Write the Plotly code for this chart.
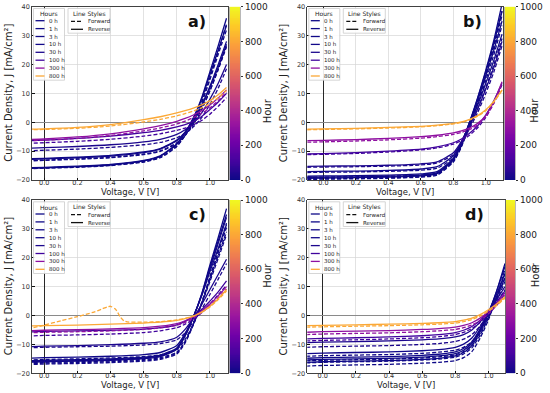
import plotly.graph_objects as go
from plotly.colors import sample_colorscale

W, H = 550, 393

# ---------------- data ----------------
hours = [0, 1, 3, 10, 30, 100, 300, 800]
hour_labels = ["0 h", "1 h", "3 h", "10 h", "30 h", "100 h", "300 h", "800 h"]
panel_labels = ["a)", "b)", "c)", "d)"]
x_ticks = [0.0, 0.2, 0.4, 0.6, 0.8, 1.0]
y_ticks = [-20, -10, 0, 10, 20, 30, 40]
cbar_ticks = [0, 200, 400, 600, 800, 1000]
cbar_range = [0, 1000]

voltage = [-0.1, 0.0, 0.2, 0.4, 0.6, 0.7, 0.8, 0.85, 0.9, 0.95, 1.0, 1.05, 1.1]

# rows follow `hours`
a_reverse = [
    [-16.0, -15.8, -15.4, -14.8, -13.4, -11.8, -7.6, -3.6, 1.5, 8.5, 17.5, 26.5, 36.0],
    [-15.8, -15.6, -15.2, -14.6, -13.2, -11.6, -7.4, -3.5, 1.4, 8.0, 16.5, 25.0, 33.5],
    [-12.7, -12.5, -12.1, -11.5, -10.3, -9.1, -6.2, -3.4, 0.6, 6.0, 12.5, 20.0, 28.0],
    [-12.9, -12.7, -12.3, -11.7, -10.5, -9.3, -6.4, -3.6, 0.3, 5.5, 12.0, 19.0, 27.0],
    [-9.0, -8.8, -8.4, -7.8, -6.8, -5.9, -4.2, -2.6, -0.3, 3.2, 8.0, 13.5, 20.0],
    [-6.4, -6.2, -5.6, -4.8, -3.6, -2.8, -1.6, -0.8, 0.3, 2.0, 4.4, 7.0, 10.0],
    [-6.0, -5.8, -5.1, -4.0, -2.3, -1.2, 0.3, 1.3, 2.5, 4.0, 6.0, 8.4, 11.2],
    [-2.4, -2.3, -1.8, -0.8, 0.9, 1.9, 3.2, 4.0, 4.9, 6.0, 7.5, 9.5, 12.0],
]
a_forward = [
    [-16.1, -15.9, -15.6, -15.0, -13.8, -12.3, -8.4, -4.6, 0.3, 7.0, 15.5, 24.5, 34.0],
    [-15.9, -15.8, -15.4, -14.8, -13.6, -12.1, -8.2, -4.5, 0.2, 6.6, 14.8, 23.5, 32.0],
    [-13.4, -13.2, -12.8, -12.3, -11.2, -10.1, -7.3, -4.6, -0.8, 4.4, 10.8, 18.2, 26.5],
    [-13.3, -13.1, -12.7, -12.1, -11.0, -9.9, -7.1, -4.4, -0.6, 4.6, 11.0, 18.5, 26.0],
    [-9.9, -9.7, -9.3, -8.7, -7.8, -7.0, -5.4, -3.8, -1.6, 1.6, 6.2, 11.8, 18.5],
    [-7.3, -7.1, -6.6, -5.9, -4.8, -4.0, -2.8, -2.0, -0.9, 0.6, 2.8, 5.5, 8.5],
    [-6.4, -6.2, -5.6, -4.6, -3.0, -2.0, -0.6, 0.4, 1.6, 3.1, 5.0, 7.5, 10.5],
    [-2.6, -2.5, -2.1, -1.3, 0.1, 1.0, 2.2, 3.0, 3.9, 5.0, 6.5, 8.5, 11.0],
]

b_reverse = [
    [-19.4, -19.3, -19.2, -19.0, -18.6, -17.8, -13.0, -7.5, 0.0, 8.5, 18.0, 28.5, 41.0],
    [-19.1, -19.0, -18.9, -18.7, -18.3, -17.5, -12.8, -7.3, 0.0, 8.3, 17.5, 27.5, 38.5],
    [-18.7, -18.6, -18.5, -18.3, -17.9, -17.1, -12.5, -7.2, -0.2, 7.5, 16.0, 25.0, 35.0],
    [-17.1, -17.0, -16.9, -16.7, -16.2, -15.4, -11.6, -6.9, -0.6, 6.0, 13.5, 21.5, 30.5],
    [-15.3, -15.2, -15.1, -14.9, -14.4, -13.7, -10.6, -6.6, -1.2, 4.6, 11.5, 19.0, 28.0],
    [-11.0, -10.9, -10.5, -10.0, -9.3, -8.5, -7.1, -5.8, -3.8, -1.2, 2.5, 7.5, 13.5],
    [-6.4, -6.3, -6.0, -5.6, -5.0, -4.5, -3.7, -3.0, -2.0, -0.4, 2.4, 7.2, 14.0],
    [-2.4, -2.3, -2.1, -1.8, -1.4, -1.0, -0.4, 0.1, 1.0, 2.3, 4.3, 7.3, 11.2],
]
b_forward = [
    [-19.8, -19.7, -19.6, -19.4, -19.0, -18.3, -13.8, -8.5, -1.2, 7.0, 16.5, 27.0, 38.5],
    [-19.6, -19.5, -19.4, -19.2, -18.8, -18.0, -13.5, -8.3, -1.2, 6.8, 16.0, 26.0, 37.0],
    [-19.1, -19.0, -18.9, -18.7, -18.3, -17.6, -13.2, -8.0, -1.3, 6.2, 14.5, 23.5, 33.5],
    [-17.4, -17.3, -17.2, -17.0, -16.6, -15.9, -12.3, -7.7, -1.6, 4.8, 12.0, 20.0, 29.0],
    [-15.6, -15.5, -15.4, -15.2, -14.8, -14.1, -11.2, -7.4, -2.2, 3.4, 10.0, 17.5, 26.5],
    [-11.2, -11.1, -10.8, -10.3, -9.6, -8.9, -7.6, -6.4, -4.5, -1.9, 1.7, 6.7, 13.0],
    [-6.9, -6.8, -6.5, -6.1, -5.5, -5.0, -4.2, -3.5, -2.5, -0.9, 1.9, 6.6, 13.5],
    [-2.6, -2.5, -2.3, -2.0, -1.6, -1.2, -0.6, -0.1, 0.8, 2.1, 4.0, 7.0, 11.0],
]

c_reverse = [
    [-16.0, -15.8, -15.6, -15.3, -14.7, -14.0, -11.5, -7.0, -0.5, 7.5, 17.5, 27.0, 37.0],
    [-15.7, -15.5, -15.3, -15.0, -14.4, -13.7, -11.2, -6.8, -0.5, 7.2, 16.8, 25.8, 35.0],
    [-14.8, -14.6, -14.4, -14.1, -13.5, -12.8, -10.4, -6.2, -0.3, 6.8, 15.2, 23.2, 31.5],
    [-16.2, -16.0, -15.8, -15.5, -14.9, -14.2, -11.7, -7.1, -0.6, 7.0, 16.0, 25.0, 34.0],
    [-10.8, -10.6, -10.4, -10.1, -9.6, -9.1, -7.5, -4.8, -0.8, 3.8, 9.0, 14.2, 19.5],
    [-5.7, -5.5, -5.3, -5.1, -4.7, -4.2, -3.2, -2.0, -0.3, 2.0, 5.0, 8.2, 12.0],
    [-5.3, -5.1, -4.9, -4.6, -4.2, -3.7, -2.8, -1.8, -0.4, 1.6, 4.0, 6.8, 10.0],
    [-3.6, -3.5, -3.3, -3.0, -2.6, -2.3, -1.7, -1.1, -0.2, 1.2, 3.2, 5.8, 9.0],
]
c_forward = [
    [-16.7, -16.5, -16.3, -16.0, -15.5, -14.9, -13.0, -9.2, -3.0, 4.5, 13.5, 22.5, 32.0],
    [-16.4, -16.2, -16.0, -15.7, -15.2, -14.6, -12.7, -9.0, -3.0, 4.3, 13.0, 21.8, 30.5],
    [-15.4, -15.2, -15.0, -14.7, -14.2, -13.6, -11.8, -8.3, -2.8, 4.0, 11.8, 19.8, 28.0],
    [-17.0, -16.8, -16.6, -16.3, -15.8, -15.2, -13.3, -9.5, -3.2, 4.0, 12.5, 20.8, 29.0],
    [-11.2, -11.0, -10.8, -10.6, -10.2, -9.7, -8.4, -6.0, -2.2, 2.2, 7.3, 12.6, 18.0],
    [-7.1, -6.9, -6.7, -6.4, -5.9, -5.3, -4.2, -3.0, -1.3, 1.0, 4.0, 7.2, 10.5],
    [-6.0, -5.8, -5.6, -5.3, -4.8, -4.3, -3.4, -2.4, -0.9, 1.0, 3.4, 6.2, 9.2],
]
# the 800 h forward sweep of panel c has its own (irregular) shape
c_forward_800h_voltage = [-0.1, 0.0, 0.1, 0.2, 0.25, 0.3, 0.35, 0.38, 0.4, 0.43, 0.46,
                          0.48, 0.5, 0.6, 0.7, 0.8, 0.85, 0.9, 0.95, 1.0, 1.05, 1.1]
c_forward_800h = [-4.7, -3.3, -1.8, -0.4, 0.4, 1.2, 2.3, 3.0, 3.2, 2.2, -0.6,
                  -1.8, -2.2, -2.3, -2.1, -1.5, -1.0, -0.2, 1.1, 3.0, 5.5, 8.5]

d_reverse = [
    [-16.2, -16.0, -15.8, -15.6, -15.2, -14.8, -14.0, -12.8, -10.4, -5.6, 0.6, 8.5, 18.0],
    [-15.4, -15.2, -15.0, -14.8, -14.4, -14.0, -13.2, -12.0, -9.7, -5.0, 1.0, 8.5, 17.0],
    [-14.8, -14.6, -14.4, -14.2, -13.8, -13.4, -12.6, -11.4, -9.1, -4.6, 1.0, 7.5, 14.5],
    [-13.2, -13.0, -12.8, -12.6, -12.2, -11.8, -11.0, -9.9, -7.8, -3.8, 1.0, 6.6, 13.0],
    [-9.4, -9.2, -9.0, -8.8, -8.4, -8.1, -7.4, -6.6, -5.0, -2.2, 1.4, 5.5, 10.0],
    [-8.1, -7.9, -7.7, -7.4, -7.0, -6.6, -5.9, -5.1, -3.8, -1.6, 1.4, 4.6, 8.5],
    [-5.8, -5.6, -5.4, -5.2, -4.8, -4.5, -4.0, -3.4, -2.5, -0.9, 1.4, 4.2, 7.8],
    [-3.5, -3.4, -3.2, -3.0, -2.7, -2.5, -2.1, -1.6, -0.9, 0.3, 2.0, 4.0, 6.5],
]
d_forward = [
    [-17.5, -17.3, -17.1, -16.9, -16.5, -16.2, -15.6, -14.6, -12.5, -7.8, -1.5, 6.5, 16.0],
    [-16.4, -16.2, -16.0, -15.8, -15.4, -15.1, -14.4, -13.3, -11.2, -6.8, -0.8, 6.2, 14.8],
    [-15.7, -15.5, -15.3, -15.1, -14.7, -14.3, -13.6, -12.5, -10.4, -6.2, -0.6, 5.8, 13.0],
    [-14.1, -13.9, -13.7, -13.5, -13.1, -12.7, -12.0, -11.0, -9.0, -5.2, -0.4, 5.2, 11.8],
    [-11.0, -10.8, -10.6, -10.4, -10.0, -9.7, -9.0, -8.2, -6.6, -3.6, 0.2, 4.4, 9.0],
    [-8.8, -8.6, -8.4, -8.1, -7.7, -7.3, -6.6, -5.8, -4.5, -2.4, 0.6, 3.8, 7.5],
    [-6.6, -6.4, -6.2, -6.0, -5.6, -5.3, -4.8, -4.2, -3.3, -1.7, 0.6, 3.5, 7.0],
    [-4.0, -3.9, -3.7, -3.5, -3.2, -3.0, -2.6, -2.1, -1.4, -0.2, 1.5, 3.5, 6.0],
]

# ---------------- geometry (px) ----------------
panels = [
    dict(left=32.0, right=228.0, top=6.7, bottom=180.0, xr=[-0.074, 1.109], cb=[229.5, 240.0],
         rev=a_reverse, fwd=a_forward),
    dict(left=307.3, right=503.5, top=6.7, bottom=180.0, xr=[-0.099, 1.109], cb=[504.5, 515.0],
         rev=b_reverse, fwd=b_forward),
    dict(left=32.0, right=228.0, top=200.0, bottom=373.3, xr=[-0.074, 1.109], cb=[229.5, 240.0],
         rev=c_reverse, fwd=c_forward),
    dict(left=307.3, right=505.0, top=200.0, bottom=373.3, xr=[-0.093, 1.100], cb=[506.0, 515.0],
         rev=d_reverse, fwd=d_forward),
]


def px(x):
    return x / W


def py(y):
    return 1 - y / H


colors = [sample_colorscale("Plasma", [h / 1000])[0] for h in hours]
FONT = "DejaVu Sans"
DASH = "4px,2px"
LW = 1.3

# colour ramp shown in each colour bar
ramp = list(range(cbar_range[0], cbar_range[1] + 1, 5))

fig = go.Figure()
layout = dict(width=W, height=H, margin=dict(l=0, r=0, t=0, b=0),
              paper_bgcolor="white", plot_bgcolor="white", showlegend=False,
              font=dict(family=FONT, color="#222"))
shapes = []
annotations = []

for k, p in enumerate(panels):
    sfx = "" if k == 0 else str(k + 1)
    xa, ya = "x" + sfx, "y" + sfx
    L, T, R, B = p["left"], p["top"], p["right"], p["bottom"]

    layout["xaxis" + sfx] = dict(
        domain=[px(L), px(R)], range=p["xr"], anchor=ya, tickvals=x_ticks, tickformat=".1f",
        showgrid=True, gridcolor="#d6d6d6", gridwidth=0.7,
        zeroline=True, zerolinecolor="#111", zerolinewidth=0.9,
        showline=True, linecolor="#111", linewidth=0.8, mirror=True,
        ticks="inside", ticklen=2.5, tickcolor="#111", ticklabelstandoff=-4,
        tickfont=dict(size=6.5, color="#333"), automargin=False, fixedrange=True)
    layout["yaxis" + sfx] = dict(
        domain=[py(B), py(T)], range=[-20, 40], anchor=xa, tickvals=y_ticks,
        showgrid=True, gridcolor="#d6d6d6", gridwidth=0.7,
        zeroline=True, zerolinecolor="#8a8a8a", zerolinewidth=1.3,
        showline=True, linecolor="#111", linewidth=0.8, mirror=True,
        ticks="inside", ticklen=2.5, tickcolor="#111",
        tickfont=dict(size=6.5, color="#333"), automargin=False, fixedrange=True)

    # curves
    for i, h in enumerate(hours):
        if k == 2 and h == 800:
            fv, fj = c_forward_800h_voltage, c_forward_800h
        else:
            fv, fj = voltage, p["fwd"][i]
        fig.add_trace(go.Scatter(x=fv, y=fj, mode="lines", xaxis=xa, yaxis=ya,
                                 line=dict(color=colors[i], width=LW, dash=DASH, shape="spline",
                                           smoothing=0.6),
                                 name=hour_labels[i] + " forward", hoverinfo="skip"))
        fig.add_trace(go.Scatter(x=voltage, y=p["rev"][i], mode="lines", xaxis=xa, yaxis=ya,
                                 line=dict(color=colors[i], width=LW, shape="spline",
                                           smoothing=0.6),
                                 name=hour_labels[i] + " reverse", hoverinfo="skip"))

    # colour bar drawn as a one-column heatmap on its own axes
    cb0, cb1 = p["cb"]
    csfx = str(k + 5)
    fig.add_trace(go.Heatmap(x=[0], y=ramp, z=[[v] for v in ramp], colorscale="Plasma",
                             zmin=cbar_range[0], zmax=cbar_range[1], showscale=False,
                             xaxis="x" + csfx, yaxis="y" + csfx, hoverinfo="skip"))
    layout["xaxis" + csfx] = dict(domain=[px(cb0), px(cb1)], range=[-0.5, 0.5], anchor="y" + csfx,
                                  visible=False, fixedrange=True)
    layout["yaxis" + csfx] = dict(domain=[py(B), py(T)], range=cbar_range, anchor="x" + csfx,
                                  side="right", tickvals=cbar_ticks, ticks="outside", ticklen=2.5,
                                  tickcolor="#333", showgrid=False, zeroline=False,
                                  showline=True, linecolor="#888", linewidth=0.6, mirror=True,
                                  tickfont=dict(size=9, family=FONT, color="#222"),
                                  automargin=False, fixedrange=True)
    annotations.append(dict(text="Hour", x=px(cb1 + 27.5), y=py((T + B) / 2 + 3),
                            xref="paper", yref="paper", showarrow=False, textangle=-90,
                            font=dict(size=10, family=FONT, color="#222")))

    # axis titles and panel label
    annotations.append(dict(text="Voltage, V [V]", x=px((L + R) / 2), y=py(B + 12),
                            xref="paper", yref="paper", showarrow=False,
                            xanchor="center", yanchor="middle",
                            font=dict(size=8.5, family=FONT, color="#222")))
    annotations.append(dict(text="Current Density, J [mA/cm²]", x=px(L - 23.5),
                            y=py((T + B) / 2), xref="paper", yref="paper", showarrow=False,
                            textangle=-90, xanchor="center", yanchor="middle",
                            font=dict(size=10, family=FONT, color="#222")))
    annotations.append(dict(text="<b>" + panel_labels[k] + "</b>", x=px(R - 31), y=py(T + 14.5),
                            xref="paper", yref="paper", showarrow=False,
                            xanchor="center", yanchor="middle",
                            font=dict(size=16, family=FONT, color="#111")))

    # ---- legend: Hours ----
    shapes.append(dict(type="rect", xref="paper", yref="paper", layer="above",
                       x0=px(L + 1.5), x1=px(L + 32.5), y0=py(T + 73.5), y1=py(T + 1.8),
                       fillcolor="rgba(255,255,255,0.9)", line=dict(color="#cccccc", width=0.8)))
    annotations.append(dict(text="Hours", x=px(L + 17), y=py(T + 7.3), xref="paper", yref="paper",
                            showarrow=False, xanchor="center", yanchor="middle",
                            font=dict(size=6, family=FONT, color="#222")))
    for i, lab in enumerate(hour_labels):
        yy = T + 14.0 + 7.9 * i
        shapes.append(dict(type="line", xref="paper", yref="paper", layer="above",
                           x0=px(L + 3.5), x1=px(L + 12.5), y0=py(yy), y1=py(yy),
                           line=dict(color=colors[i], width=1.3)))
        annotations.append(dict(text=lab, x=px(L + 14.5), y=py(yy), xref="paper", yref="paper",
                                showarrow=False, xanchor="left", yanchor="middle",
                                font=dict(size=5.5, family=FONT, color="#222")))

    # ---- legend: Line Styles ----
    shapes.append(dict(type="rect", xref="paper", yref="paper", layer="above",
                       x0=px(L + 36), x1=px(L + 78), y0=py(T + 26.5), y1=py(T + 1.8),
                       fillcolor="rgba(255,255,255,0.9)", line=dict(color="#cccccc", width=0.8)))
    annotations.append(dict(text="Line Styles", x=px(L + 57), y=py(T + 7.3), xref="paper",
                            yref="paper", showarrow=False, xanchor="center", yanchor="middle",
                            font=dict(size=6, family=FONT, color="#222")))
    for j, (lab, dash) in enumerate([("Forward", DASH), ("Reverse", "solid")]):
        yy = T + 14.6 + 8.0 * j
        shapes.append(dict(type="line", xref="paper", yref="paper", layer="above",
                           x0=px(L + 39), x1=px(L + 51), y0=py(yy), y1=py(yy),
                           line=dict(color="#111", width=1.3, dash=dash)))
        annotations.append(dict(text=lab, x=px(L + 53.5), y=py(yy), xref="paper", yref="paper",
                                showarrow=False, xanchor="left", yanchor="middle",
                                font=dict(size=5.5, family=FONT, color="#222")))

layout["shapes"] = shapes
layout["annotations"] = annotations
fig.update_layout(**layout)
fig.write_html("out.html",
               config={"displayModeBar": False, "staticPlot": True},
               post_script="document.body.style.margin='0px';"
                           "document.body.style.overflow='hidden';")
